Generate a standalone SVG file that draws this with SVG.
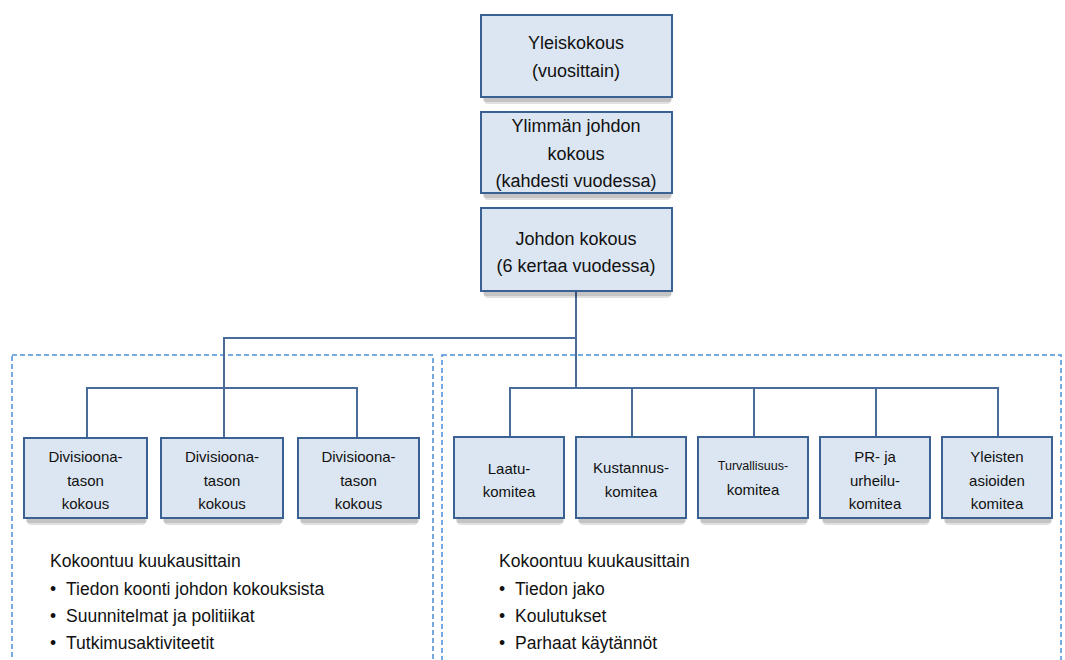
<svg xmlns="http://www.w3.org/2000/svg" width="1065" height="660" viewBox="0 0 1065 660">
<defs>
<style>
.box{fill:#dce6f2;stroke:#3b6192;stroke-width:2}
.s1{fill:#000;opacity:0.12}
.s2{fill:#000;opacity:0.12}
.t{font-family:"Liberation Sans",Arial,sans-serif;fill:#111;text-anchor:middle}
.t18{font-size:18px}
.t15{font-size:15px}
.t12{font-size:12.5px}
.conn{fill:none;stroke:#4a6c9b;stroke-width:2}
.dash{fill:none;stroke:#4a8fd6;stroke-width:1.5;stroke-dasharray:5 3}
.b{font-family:"Liberation Sans",Arial,sans-serif;font-size:17.5px;fill:#111}
</style>
</defs>
<rect fill="#fff" width="1065" height="660"/>
<g id="groups">
<rect class="dash" x="12" y="355" width="421" height="330"/>
<rect class="dash" x="442" y="355" width="619" height="330"/>
</g>
<g id="connectors">
<path class="conn" d="M576,291 V388 M576,338 H224 V438 M87,438 V388 H357 V438 M510,437 V388 H998 V437 M632,388 V437 M754,388 V437 M876,388 V437"/>
</g>
<g id="n-yleiskokous">
<rect class="s1" x="483" y="20" width="189" height="82" rx="3"/><rect class="s2" x="484" y="22" width="187" height="82" rx="4"/>
<rect class="box" x="481" y="15" width="191" height="82"/>
<text class="t t18" x="576" y="49">Yleiskokous</text>
<text class="t t18" x="576" y="77">(vuosittain)</text>
</g>
<g id="n-ylimman">
<rect class="s1" x="483" y="117" width="189" height="81" rx="3"/><rect class="s2" x="484" y="119" width="187" height="81" rx="4"/>
<rect class="box" x="481" y="112" width="191" height="81"/>
<text class="t t18" x="576" y="132">Ylimmän johdon</text>
<text class="t t18" x="576" y="160">kokous</text>
<text class="t t18" x="576" y="187">(kahdesti vuodessa)</text>
</g>
<g id="n-johdon">
<rect class="s1" x="483" y="213" width="189" height="83" rx="3"/><rect class="s2" x="484" y="215" width="187" height="83" rx="4"/>
<rect class="box" x="481" y="208" width="191" height="83"/>
<text class="t t18" x="576" y="245">Johdon kokous</text>
<text class="t t18" x="576" y="272">(6 kertaa vuodessa)</text>
</g>
<g id="n-div1">
<rect class="s1" x="26" y="443" width="121" height="80" rx="3"/><rect class="s2" x="27" y="445" width="119" height="80" rx="4"/>
<rect class="box" x="24" y="438" width="123" height="80"/>
<text class="t t15" x="85.5" y="462">Divisioona-</text>
<text class="t t15" x="85.5" y="486">tason</text>
<text class="t t15" x="85.5" y="509">kokous</text>
</g>
<g id="n-div2">
<rect class="s1" x="163" y="443" width="120" height="80" rx="3"/><rect class="s2" x="164" y="445" width="118" height="80" rx="4"/>
<rect class="box" x="161" y="438" width="122" height="80"/>
<text class="t t15" x="222" y="462">Divisioona-</text>
<text class="t t15" x="222" y="486">tason</text>
<text class="t t15" x="222" y="509">kokous</text>
</g>
<g id="n-div3">
<rect class="s1" x="300" y="443" width="119" height="80" rx="3"/><rect class="s2" x="301" y="445" width="117" height="80" rx="4"/>
<rect class="box" x="298" y="438" width="121" height="80"/>
<text class="t t15" x="358.5" y="462">Divisioona-</text>
<text class="t t15" x="358.5" y="486">tason</text>
<text class="t t15" x="358.5" y="509">kokous</text>
</g>
<g id="n-laatu">
<rect class="s1" x="456" y="442" width="108" height="81" rx="3"/><rect class="s2" x="457" y="444" width="106" height="81" rx="4"/>
<rect class="box" x="454" y="437" width="110" height="81"/>
<text class="t t15" x="509" y="474">Laatu-</text>
<text class="t t15" x="509" y="497">komitea</text>
</g>
<g id="n-kustannus">
<rect class="s1" x="578" y="442" width="108" height="81" rx="3"/><rect class="s2" x="579" y="444" width="106" height="81" rx="4"/>
<rect class="box" x="576" y="437" width="110" height="81"/>
<text class="t t15" x="631" y="473">Kustannus-</text>
<text class="t t15" x="631" y="497">komitea</text>
</g>
<g id="n-turvallisuus">
<rect class="s1" x="700" y="442" width="108" height="81" rx="3"/><rect class="s2" x="701" y="444" width="106" height="81" rx="4"/>
<rect class="box" x="698" y="437" width="110" height="81"/>
<text class="t t12" x="753" y="470">Turvallisuus-</text>
<text class="t t15" x="753" y="495">komitea</text>
</g>
<g id="n-pr">
<rect class="s1" x="822" y="442" width="108" height="81" rx="3"/><rect class="s2" x="823" y="444" width="106" height="81" rx="4"/>
<rect class="box" x="820" y="437" width="110" height="81"/>
<text class="t t15" x="875" y="462">PR- ja</text>
<text class="t t15" x="875" y="486">urheilu-</text>
<text class="t t15" x="875" y="509">komitea</text>
</g>
<g id="n-yleisten">
<rect class="s1" x="944" y="442" width="108" height="81" rx="3"/><rect class="s2" x="945" y="444" width="106" height="81" rx="4"/>
<rect class="box" x="942" y="437" width="110" height="81"/>
<text class="t t15" x="997" y="462">Yleisten</text>
<text class="t t15" x="997" y="486">asioiden</text>
<text class="t t15" x="997" y="509">komitea</text>
</g>
<g id="notes-left">
<text class="b" x="50" y="567">Kokoontuu kuukausittain</text>
<text class="b" x="50" y="595">•</text><text class="b" x="66" y="595">Tiedon koonti johdon kokouksista</text>
<text class="b" x="50" y="622">•</text><text class="b" x="66" y="622">Suunnitelmat ja politiikat</text>
<text class="b" x="50" y="649">•</text><text class="b" x="66" y="649">Tutkimusaktiviteetit</text>
</g>
<g id="notes-right">
<text class="b" x="499" y="567">Kokoontuu kuukausittain</text>
<text class="b" x="499" y="595">•</text><text class="b" x="515" y="595">Tiedon jako</text>
<text class="b" x="499" y="622">•</text><text class="b" x="515" y="622">Koulutukset</text>
<text class="b" x="499" y="649">•</text><text class="b" x="515" y="649">Parhaat käytännöt</text>
</g>
</svg>
